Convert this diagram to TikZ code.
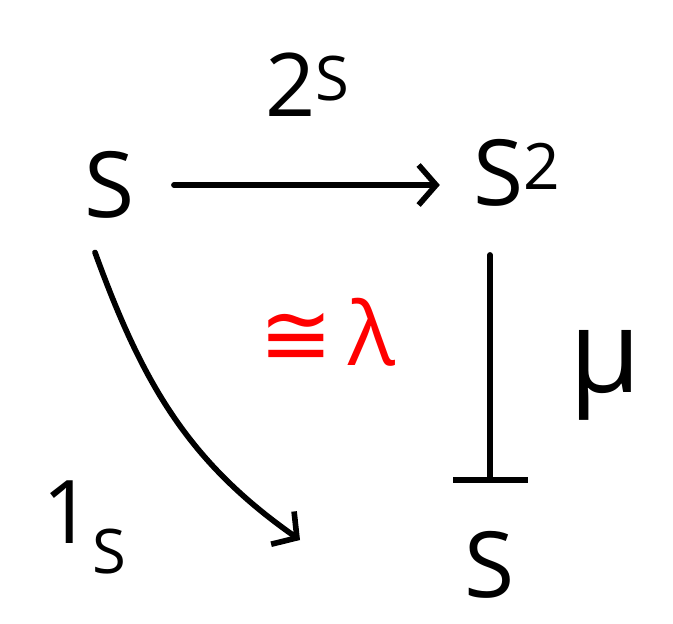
\documentclass[tikz,border=0pt]{standalone}
\usepackage{fontspec}
\setmainfont{Open Sans}
\newfontfamily\symfont{DejaVu Sans}
\usepackage{tikz}
\usetikzlibrary{arrows.meta, positioning, calc}

\begin{document}
\begin{tikzpicture}[
    obj/.style={inner sep=2pt, font=\fontsize{52}{60}\selectfont},
    lbl/.style={inner sep=1pt, font=\fontsize{50}{58}\selectfont},
    arrow/.style={-{Straight Barb[length=3.5mm, width=8mm, line width=3.2pt]}, line width=3.2pt, line cap=round},
    barrow/.style={-{Bar[width=15mm, line width=3.2pt]}, line width=3.2pt, line cap=round},
]
\useasboundingbox (0,0) rectangle (13.46,-12.46);

% Objects
\node[obj] (s) at (2.2,-3.7) {S};
\node[obj] (sq) at (10.35,-3.45) {S\textsuperscript{2}};
\node[obj] (sb) at (9.8,-11.3) {S};
\coordinate (dend) at (6.0,-10.8);

% Arrows
\draw[arrow, shorten <=7mm, shorten >=6mm] (s.east) -- (sq.west |- s.east);
\draw[barrow, shorten <=9mm, shorten >=9mm] (sq.south -| sb.north) -- (sb.north);
\draw[arrow] ($(s.south)+(-0.3,-0.6)$) to[out=-70, in=145] (dend);

% Labels
\node[lbl] (two) at (6.15,-1.7) {2\textsuperscript{S}};
\node[lbl, font=\fontsize{66}{70}\selectfont] (mu) at (12.1,-7.5) {μ};
\node[lbl] (one) at (1.7,-10.55) {1\textsubscript{S}};
\node[lbl, text=red] (iso) at (6.55,-6.65) {{\symfont ≅}\,λ};
\end{tikzpicture}
\end{document}
